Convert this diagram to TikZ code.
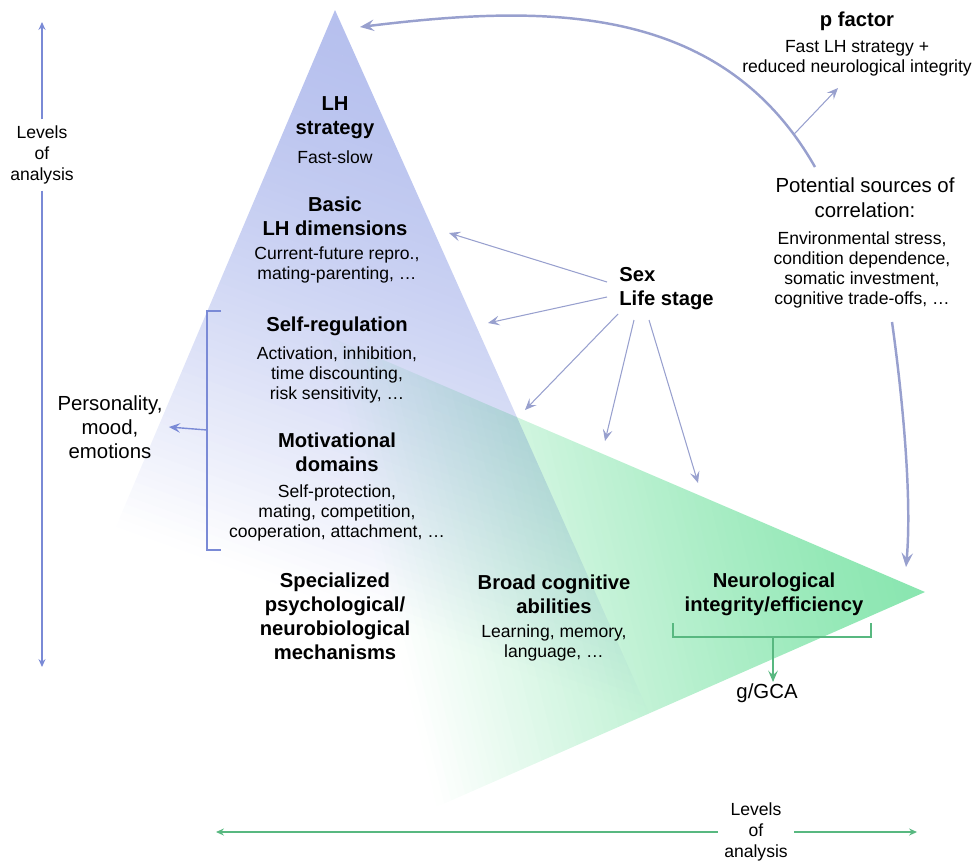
\documentclass[tikz,border=0pt]{standalone}
\usepackage{fontspec}
\setmainfont{Liberation Sans}
\usetikzlibrary{arrows.meta,fadings,positioning}

\definecolor{lhblue}{RGB}{182,192,238}
\definecolor{neurogreen}{RGB}{138,230,176}
\definecolor{linkgray}{RGB}{152,160,206}
\definecolor{axisblue}{RGB}{122,138,214}
\definecolor{axisgreen}{RGB}{88,184,128}

% fadings towards the lower left, built from thin bands
\begin{tikzfadingfrompicture}[name=blue fade, x=0.02cm, y=-0.02cm]
  \fill[transparent!100] (-3000,-3000) rectangle (3000,3000);
  \begin{scope}[shift={(335,10)}, rotate=-19.6]
    \fill[transparent!0] (-1000,-1000) rectangle (1000,0);
    \foreach \k in {0,...,69} {
      \pgfmathsetmacro\tr{100*((\k+0.5)/70)^1.5}
      \fill[transparent!\tr] (-1000,\k*8) rectangle (1000,\k*8+8.6);
    }
  \end{scope}
\end{tikzfadingfrompicture}
\begin{tikzfadingfrompicture}[name=green fade, x=0.02cm, y=-0.02cm]
  \fill[transparent!100] (-3000,-3000) rectangle (3000,3000);
  \begin{scope}[shift={(925,592)}, rotate=-76.25]
    \fill[transparent!0] (-1000,-1000) rectangle (1000,0);
    \foreach \k in {0,...,69} {
      \pgfmathsetmacro\tr{100*((\k+0.5)/70)^1.3}
      \fill[transparent!\tr] (-1000,\k*7.5) rectangle (1000,\k*7.5+8.1);
    }
  \end{scope}
\end{tikzfadingfrompicture}

\begin{document}
\begin{tikzpicture}[x=0.02cm,y=-0.02cm,>={Stealth[length=6.5pt,width=5.5pt,inset=2.6pt]},semithick]
  \tikzstyle{title}=[font=\bfseries\fontsize{11.5}{13.6}\selectfont, align=center]
  \tikzstyle{detail}=[font=\fontsize{10}{11.3}\selectfont, align=center]
  \tikzstyle{plain}=[font=\fontsize{11.6}{14}\selectfont, align=center]
  \tikzstyle{axislabel}=[font=\fontsize{10}{12}\selectfont, align=center]
  \tikzstyle{link}=[->, linkgray, line width=0.6pt]
  \tikzstyle{bigbend}=[-{Stealth[length=8pt,width=6.5pt,inset=3pt]}, linkgray, line width=1.4pt]
  \tikzstyle{bracket}=[line width=0.8pt]
  \tikzstyle{axis}=[line width=0.8pt, -{Stealth[length=4.5pt,width=4pt,inset=1.5pt]}]

  \useasboundingbox (0,0) rectangle (979,862);

  % the two pyramids
  \fill[lhblue, path fading=blue fade, fit fading=false] (335,10) -- (688,800) -- (0,800) -- cycle;
  \begin{scope}[blend mode=multiply]
    \fill[neurogreen, path fading=green fade, fit fading=false] (925,592) -- (150,933) -- (150,260) -- cycle;
  \end{scope}

  % levels in the LH pyramid
  \node[title]  (lh)       at (335,118) {LH\\strategy};
  \node[detail] (fastslow) at (335,157) {Fast-slow};
  \node[title]  (basic)    at (335,216) {Basic\\LH dimensions};
  \node[detail] (basicx)   at (337,265) {Current-future repro.,\\mating-parenting, …};
  \node[title]  (selfreg)  at (337,326) {Self-regulation};
  \node[detail] (selfregx) at (337,375) {Activation, inhibition,\\time discounting,\\risk sensitivity, …};
  \node[title]  (motiv)    at (337,452) {Motivational\\domains};
  \node[detail] (motivx)   at (337,513) {Self-protection,\\mating, competition,\\cooperation, attachment, …};
  \node[title]  (special)  at (335,616) {Specialized\\psychological/\\neurobiological\\mechanisms};
  \node[title]  (broad)    at (554,594) {Broad cognitive\\abilities};
  \node[detail] (broadx)   at (554,643) {Learning, memory,\\language, …};
  \node[title]  (neuro)    at (774,594) {Neurological\\integrity/efficiency};
  \node[plain]  (gca)      at (767,693) {g/GCA};

  % side texts
  \node[title, align=left, anchor=west] (sexlife) at (613,289) {Sex\\Life stage};
  \node[title]  (pfactor)  at (857,21) {p factor};
  \node[detail] (pfactorx) at (857,58) {Fast LH strategy +\\reduced neurological integrity};
  \node[plain]  (sources)  at (865,198) {Potential sources of\\correlation:};
  \node[detail] (sourcesx) at (862,270) {Environmental stress,\\condition dependence,\\somatic investment,\\cognitive trade-offs, …};
  \node[plain, font=\fontsize{11.6}{13.6}\selectfont] (persona) at (110,427) {Personality,\\mood,\\emotions};
  \node[axislabel] (levelsv) at (42,155) {Levels\\of\\analysis};
  \node[axislabel] (levelsh) at (756,832) {Levels\\of\\analysis};

  % free ends
  \coordinate (apexin)   at (360,27);
  \coordinate (srcup)    at (815,167);
  \coordinate (pin)      at (838,88);
  \coordinate (srcdown)  at (892,322);
  \coordinate (neurotip) at (906,567);
  \coordinate (s1) at (607,282);  \coordinate (e1) at (449,233);
  \coordinate (s2) at (607,297);  \coordinate (e2) at (488,323);
  \coordinate (s3) at (618,314);  \coordinate (e3) at (525,410);
  \coordinate (s4) at (634,320);  \coordinate (e4) at (605,441);
  \coordinate (s5) at (649,320);  \coordinate (e5) at (698,483);
  \coordinate (vtop) at (42,22);   \coordinate (vbot) at (42,667);
  \coordinate (hleft) at (216,832); \coordinate (hright) at (917,832);
  \coordinate (gcain) at (773,682);

  % correlation arcs
  \draw[bigbend] (srcup) .. controls (720,0) and (540,5) .. coordinate[pos=0.07] (onbend) (apexin);
  \draw[link] (onbend) -- (pin);
  \draw[bigbend] (srcdown) .. controls (903,400) and (912,500) .. (neurotip);

  % sex and life stage
  \foreach \s/\e in {s1/e1, s2/e2, s3/e3, s4/e4, s5/e5}
    \draw[link] (\s) -- (\e);

  % brackets
  \draw[axisblue, bracket] (221,311) -- (207,311) -- (207,550) -- (221,550);
  \draw[axisblue, bracket, ->] (207,430) -- (persona.east);
  \draw[axisgreen, bracket] (673,623) -- (673,637) -- (871,637) -- (871,623);
  \draw[axisgreen, bracket, ->] (773,637) -- (gcain);

  % axes
  \draw[axisblue, axis] (levelsv.north) -- (vtop);
  \draw[axisblue, axis] (levelsv.south) -- (vbot);
  \draw[axisgreen, axis] (levelsh.west) -- (hleft);
  \draw[axisgreen, axis] (levelsh.east) -- (hright);
\end{tikzpicture}
\end{document}
